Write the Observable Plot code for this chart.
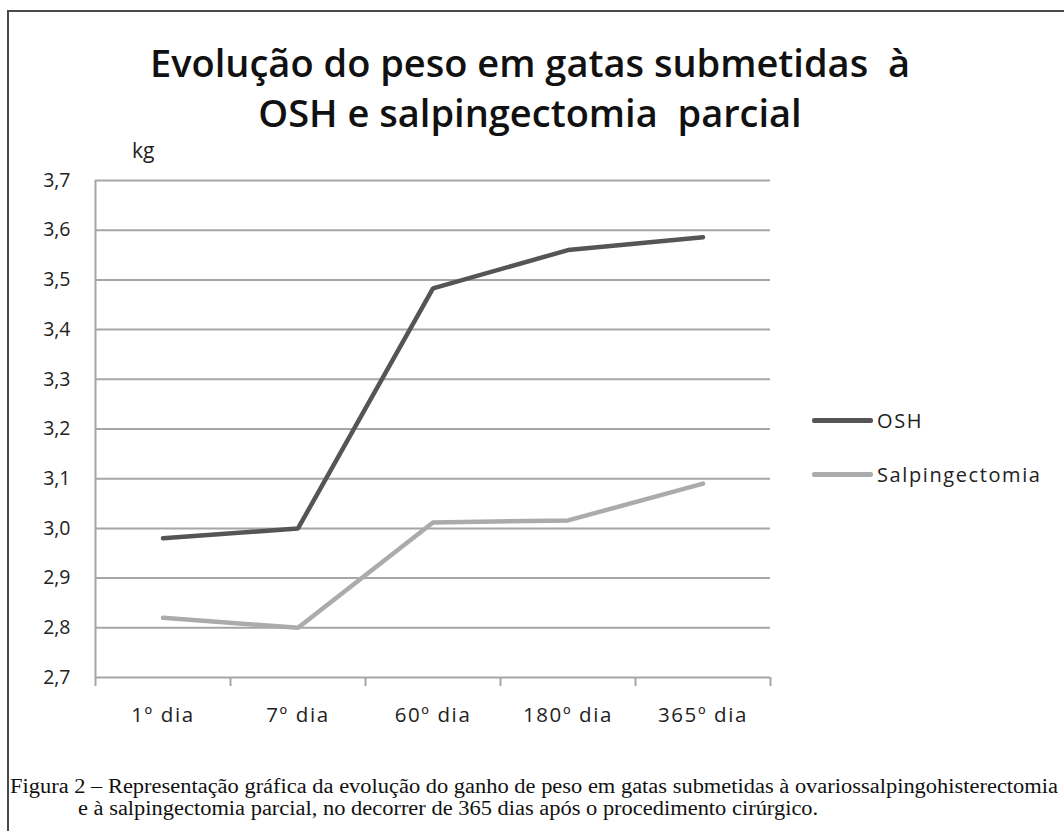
<!DOCTYPE html>
<html>
<head>
<meta charset="utf-8">
<script src="https://cdn.jsdelivr.net/npm/d3@7"></script>
<script src="https://cdn.jsdelivr.net/npm/@observablehq/plot@0.6"></script>
<style>
  html, body { margin: 0; padding: 0; background: #fff; }
  #wrap { position: relative; width: 1064px; height: 831px; overflow: hidden; background: #fff; }
  #frame { position: absolute; left: 7px; top: 10px; width: 1100px; height: 900px;
           border-top: 2px solid #4a4a4a; border-left: 2px solid #4a4a4a; }
  #title { position: absolute; left: 0; width: 1060px; top: 37px; text-align: center;
           font-family: "Open Sans", sans-serif; font-weight: 600; font-size: 38px; line-height: 50px;
           color: #111; white-space: pre; }
  #kg { position: absolute; left: 132px; top: 136px; font-family: "Open Sans", sans-serif;
        font-size: 21px; color: #222; }
  #chart { position: absolute; left: 0; top: 0; }
  .leg { position: absolute; left: 812px; font-family: "Open Sans", sans-serif; font-size: 20px; color: #222;
         display: flex; align-items: center; white-space: nowrap; letter-spacing: 1.6px; }
  .leg .sw { width: 61px; height: 5px; border-radius: 2px; margin-right: 4px; }
  #caption { position: absolute; left: 10px; top: 775px; font-family: "Liberation Serif", "Times New Roman", serif;
             font-size: 20px; line-height: 22px; color: #111; }
  #caption div { white-space: nowrap; transform-origin: 0 0; }
</style>
</head>
<body>
<div id="wrap">
  <div id="frame"></div>
  <div id="chart"></div>
  <div id="title"></div>
  <div id="kg"></div>
  <div id="legend"></div>
  <div id="caption"></div>
</div>
<script>
// ---- data ----
const categories = ["1º dia", "7º dia", "60º dia", "180º dia", "365º dia"];
const seriesNames = ["OSH", "Salpingectomia"];
const oshValues = [2.98, 3.00, 3.483, 3.56, 3.586];
const salpValues = [2.82, 2.80, 3.012, 3.016, 3.09];
const yTicks = [2.7, 2.8, 2.9, 3.0, 3.1, 3.2, 3.3, 3.4, 3.5, 3.6, 3.7];
const seriesColors = ["#555555", "#ababab"];
const titleLines = ["Evolução do peso em gatas submetidas  à", "OSH e salpingectomia  parcial"];
const yUnit = "kg";
const captionLines = [
  "Figura 2 – Representação gráfica da evolução do ganho de peso em gatas submetidas à ovariossalpingohisterectomia",
  "e à salpingectomia parcial, no decorrer de 365 dias após o procedimento cirúrgico."
];

const seriesValues = [oshValues, salpValues];
const rows = seriesNames.flatMap((name, s) =>
  seriesValues[s].map((v, i) => ({serie: name, pos: i + 0.5, cat: categories[i], v}))
);

const gridColor = "#a6a6a6";
const chart = Plot.plot({
  width: 800,
  height: 747,
  marginLeft: 95,
  marginRight: 30,
  marginTop: 180,
  marginBottom: 70,
  style: {fontFamily: "'Open Sans', sans-serif", background: "transparent"},
  x: {type: "linear", domain: [0, categories.length], axis: null},
  y: {domain: [2.7, 3.7], axis: null},
  color: {domain: seriesNames, range: seriesColors},
  marks: [
    Plot.ruleY(yTicks, {stroke: gridColor, strokeWidth: 2}),
    Plot.ruleX([0], {y1: 2.7, y2: 3.7, stroke: gridColor, strokeWidth: 2}),
    Plot.axisX(d3.range(0, categories.length + 1), {
      tickSize: 9, tickFormat: () => "", stroke: gridColor, strokeWidth: 2, label: null
    }),
    Plot.axisX(categories.map((c, i) => i + 0.5), {
      tickSize: 0, tickPadding: 30, tickFormat: d => categories[Math.round(d - 0.5)],
      fontSize: 20.5, fill: "#222", label: null
    }),
    Plot.axisY(yTicks, {
      tickSize: 0, tickPadding: 25, tickFormat: d => d.toFixed(1).replace(".", ","),
      fontSize: 19.5, fill: "#222", label: null
    }),
    Plot.line(rows, {x: "pos", y: "v", stroke: "serie", z: "serie", strokeWidth: 4.5,
      strokeLinejoin: "miter", strokeLinecap: "round"})
  ]
});
document.getElementById("chart").appendChild(chart);
// slightly wider letter spacing on category labels, as in the reference rendering
d3.select(chart).selectAll("g[aria-label='x-axis tick label']").filter(function(d, i, n) { return i === n.length - 1; })
  .attr("letter-spacing", "1.6px");

document.getElementById("title").textContent = titleLines.join("\n");
document.getElementById("kg").textContent = yUnit;

const legend = document.getElementById("legend");
seriesNames.forEach((name, i) => {
  const item = document.createElement("div");
  item.className = "leg";
  item.style.top = (407 + i * 54) + "px";
  const sw = document.createElement("div");
  sw.className = "sw";
  sw.style.background = seriesColors[i];
  const tx = document.createElement("span");
  tx.textContent = name;
  item.appendChild(sw);
  item.appendChild(tx);
  legend.appendChild(item);
});

const cap = document.getElementById("caption");
captionLines.forEach((line, i) => {
  const d = document.createElement("div");
  d.textContent = line;
  if (i > 0) d.style.marginLeft = "68px";
  cap.appendChild(d);
});
const first = cap.firstChild;
const w = first.getBoundingClientRect().width;
const sx = 1048 / w;
cap.querySelectorAll("div").forEach(d => d.style.transform = `scaleX(${sx})`);
</script>
</body>
</html>
